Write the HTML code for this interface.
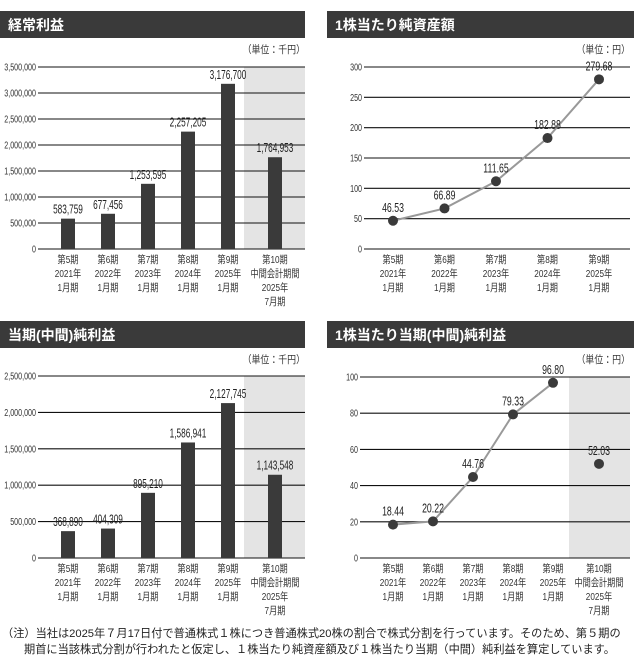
<!DOCTYPE html>
<html><head><meta charset="utf-8"><style>
body{margin:0;background:#fff;width:634px;height:657px;overflow:hidden;font-family:"Liberation Sans","Noto Sans CJK JP",sans-serif}
svg{position:absolute;left:0;top:0}
.hd{font-family:"Liberation Sans","Noto Sans CJK JP",sans-serif;font-weight:bold;font-size:14px;fill:#fff}
.t{font-size:10.5px;fill:#333}
.v{font-size:12.5px;fill:#222}
.foot{position:absolute;left:2px;top:626px;width:640px;font-family:"Liberation Sans","Noto Sans CJK JP",sans-serif;font-size:11.2px;line-height:16px;color:#222;white-space:nowrap}
</style></head><body>
<svg id="c" width="634" height="657"></svg>
<div class="foot">（注）当社は2025年７月17日付で普通株式１株につき普通株式20株の割合で株式分割を行っています。そのため、第５期の<br><span style="padding-left:22px">期首に当該株式分割が行われたと仮定し、１株当たり純資産額及び１株当たり当期（中間）純利益を算定しています。</span></div>
<script>
const cats6=[["第5期","2021年","1月期"],["第6期","2022年","1月期"],["第7期","2023年","1月期"],["第8期","2024年","1月期"],["第9期","2025年","1月期"],["第10期","中間会計期間","2025年","7月期"]];
const ordinary=[583759,677456,1253595,2257205,3176700,1764953];
const ordinaryTicks=[0,500000,1000000,1500000,2000000,2500000,3000000,3500000];
const bps=[46.53,66.89,111.65,182.88,279.68];
const bpsTicks=[0,50,100,150,200,250,300];
const netIncome=[368890,404309,895210,1586941,2127745,1143548];
const netTicks=[0,500000,1000000,1500000,2000000,2500000];
const eps=[18.44,20.22,44.76,79.33,96.80,52.03];
const epsTicks=[0,20,40,60,80,100];

const svg=document.getElementById('c');const NS='http://www.w3.org/2000/svg';
function el(tag,attrs,name,text){const e=document.createElementNS(NS,tag);for(const k in attrs)e.setAttribute(k,attrs[k]);


if(text!==undefined)e.textContent=text;svg.appendChild(e);return e;}
function tx(x,y,cls,anchor,name,s,sx){return el('text',{x:0,y:0,class:cls,'text-anchor':anchor,transform:'translate('+x+','+y+') scale('+(sx||0.72)+',1)'},name,s);}
const fmt=v=>v.toLocaleString('en-US');
function panel(p){
 el('rect',{x:p.hx,y:p.hy,width:p.hw,height:27,fill:'#3a3a3a'},'panel-header');
 el('text',{x:p.hx+8,y:p.hy+19,class:'hd'},'panel-title',p.title);
 tx(p.x1,p.hy+42,'t','end','unit-label',p.unit,0.85);
 const max=p.ticks[p.ticks.length-1];
 const Y=v=>p.y0-(v/max)*(p.y0-p.yt);
 if(p.shade)el('rect',{x:p.shade,y:p.yt,width:p.x1-p.shade,height:p.y0-p.yt,fill:'#e4e4e4'},'interim-shade');
 p.ticks.forEach(t=>{el('line',{x1:p.x0,x2:p.x1,y1:Y(t),y2:Y(t),stroke:'#111','stroke-width':1.1},'gridline');
  tx(p.x0-2,Y(t)+3.5,'t','end','y-tick-label',p.tf?p.tf(t):String(t),0.68);});
 const X=i=>i<5?p.cx0+i*p.dx:p.clast;
 p.data.forEach((v,i)=>{const x=X(i);
  cats6[i].forEach((s,j)=>tx(x,p.y0+14+j*14,'t','middle','x-tick-label',s,0.78));});
 if(p.type==='bar'){p.data.forEach((v,i)=>{const x=X(i);
  el('rect',{x:x-7,y:Y(v),width:14,height:p.y0-Y(v),fill:'#3a3a3a'},'bar');
  tx(x,Y(v)-5,'v','middle','value-label',fmt(v),0.66);});}
 else{const n=Math.min(p.data.length,5);let d='';
  for(let i=0;i<n;i++)d+=(i?'L':'M')+X(i)+','+Y(p.data[i]);
  el('path',{d:d,fill:'none',stroke:'#999','stroke-width':2},'series-line');
  p.data.forEach((v,i)=>{const x=X(i);
   el('circle',{cx:x,cy:Y(v),r:5,fill:'#3a3a3a'},'data-point');
   tx(x,Y(v)-9,'v','middle','value-label',v.toFixed(2),0.7);});}
}
panel({title:'経常利益',unit:'（単位：千円）',hx:0,hy:11,hw:305,x0:38,x1:305,yt:67,y0:249,ticks:ordinaryTicks,tf:fmt,cx0:68,dx:40,clast:275,shade:244,data:ordinary,type:'bar'});
panel({title:'1株当たり純資産額',unit:'（単位：円）',hx:327,hy:11,hw:307,x0:364,x1:630,yt:67,y0:249,ticks:bpsTicks,cx0:393,dx:51.5,clast:0,data:bps,type:'line'});
panel({title:'当期(中間)純利益',unit:'（単位：千円）',hx:0,hy:321,hw:305,x0:38,x1:305,yt:376,y0:558,ticks:netTicks,tf:fmt,cx0:68,dx:40,clast:275,shade:244,data:netIncome,type:'bar'});
panel({title:'1株当たり当期(中間)純利益',unit:'（単位：円）',hx:327,hy:321,hw:307,x0:360,x1:630,yt:377,y0:558,ticks:epsTicks,cx0:393,dx:40,clast:599,shade:569,data:eps,type:'line'});
</script>
</body></html>
